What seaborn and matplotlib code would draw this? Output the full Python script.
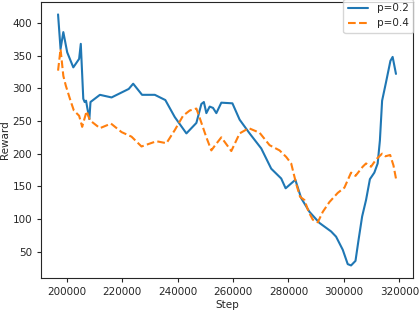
import matplotlib
matplotlib.use("Agg")
import matplotlib.pyplot as plt
import seaborn as sns
import pandas as pd

steps_02 = [196900, 197800, 198800, 200200, 202400, 204500, 205100, 206000, 206500,
            207000, 207400, 208200, 208600, 212000, 216200, 222400, 224000, 227200,
            231800, 235600, 239000, 243200, 246800, 248600, 249500, 250400, 251600,
            252800, 254000, 255800, 259800, 262400, 266000, 270200, 273800, 277400,
            279000, 282500, 284600, 287600, 291200, 295400, 297200, 299600, 301400,
            302600, 304200, 305300, 306600, 308000, 309400, 311000, 312200, 313000,
            313800, 315200, 316800, 317600, 318800]
reward_02 = [413, 360, 386, 355, 332, 345, 368, 284, 279,
             281, 271, 253, 279, 290, 286, 299, 307, 290,
             290, 282, 256, 231, 247, 276, 279, 262, 272,
             270, 262, 278, 277, 252, 231, 208, 177, 162,
             147, 160, 132, 111, 94, 81, 73, 53, 31,
             29, 36, 68, 104, 129, 161, 171, 185, 220,
             281, 309, 342, 348, 322]

steps_04 = [196900, 197800, 198800, 199700, 201400, 202600, 204500, 205600, 207200,
            208400, 212000, 216000, 219800, 223400, 227000, 232400, 236000, 239000,
            242000, 244400, 246800, 248300, 250400, 252200, 253600, 255800, 259400,
            262400, 265700, 269600, 273200, 276800, 279200, 281000, 282800, 284200,
            285800, 287300, 288800, 290600, 292400, 294800, 297800, 300200, 302600,
            304200, 306800, 308000, 309800, 311600, 313800, 315000, 316700, 317900,
            318800]
reward_04 = [327, 360, 319, 304, 281, 266, 258, 241, 265,
             251, 239, 246, 233, 226, 211, 219, 216, 236,
             258, 266, 269, 251, 225, 205, 213, 225, 204,
             231, 239, 232, 213, 205, 195, 185, 154, 134,
             129, 111, 99, 95, 111, 126, 140, 148, 171,
             166, 180, 185, 180, 191, 200, 196, 198, 182,
             162]

labels = ["p=0.2", "p=0.4"]

sns.set_style("ticks")
plt.rcParams['font.family'] = ['DejaVu Sans']

fig, ax = plt.subplots(figsize=(4.2, 3.12), dpi=100)
fig.subplots_adjust(left=0.098, right=0.983, top=0.994, bottom=0.109)

df1 = pd.DataFrame({"Step": steps_02, "Reward": reward_02})
df2 = pd.DataFrame({"Step": steps_04, "Reward": reward_04})
sns.lineplot(data=df1, x="Step", y="Reward", ax=ax, color="#1f77b4",
             linewidth=1.5, label=labels[0])
sns.lineplot(data=df2, x="Step", y="Reward", ax=ax, color="#ff7f0e",
             linewidth=1.5, linestyle="--", label=labels[1])

ax.set_xticks([200000, 220000, 240000, 260000, 280000, 300000, 320000])
ax.set_yticks([50, 100, 150, 200, 250, 300, 350, 400])
ax.tick_params(labelsize=7.5, length=3, width=0.8)
ax.set_xlabel("Step", fontsize=7.5, labelpad=2)
ax.set_ylabel("Reward", fontsize=7.5, labelpad=2)
ax.legend(loc="upper right", bbox_to_anchor=(1.0, 1.01), borderaxespad=0,
          fontsize=7.5, framealpha=0.8, edgecolor="#cccccc", fancybox=True)

fig.savefig("out.png", dpi=100)
